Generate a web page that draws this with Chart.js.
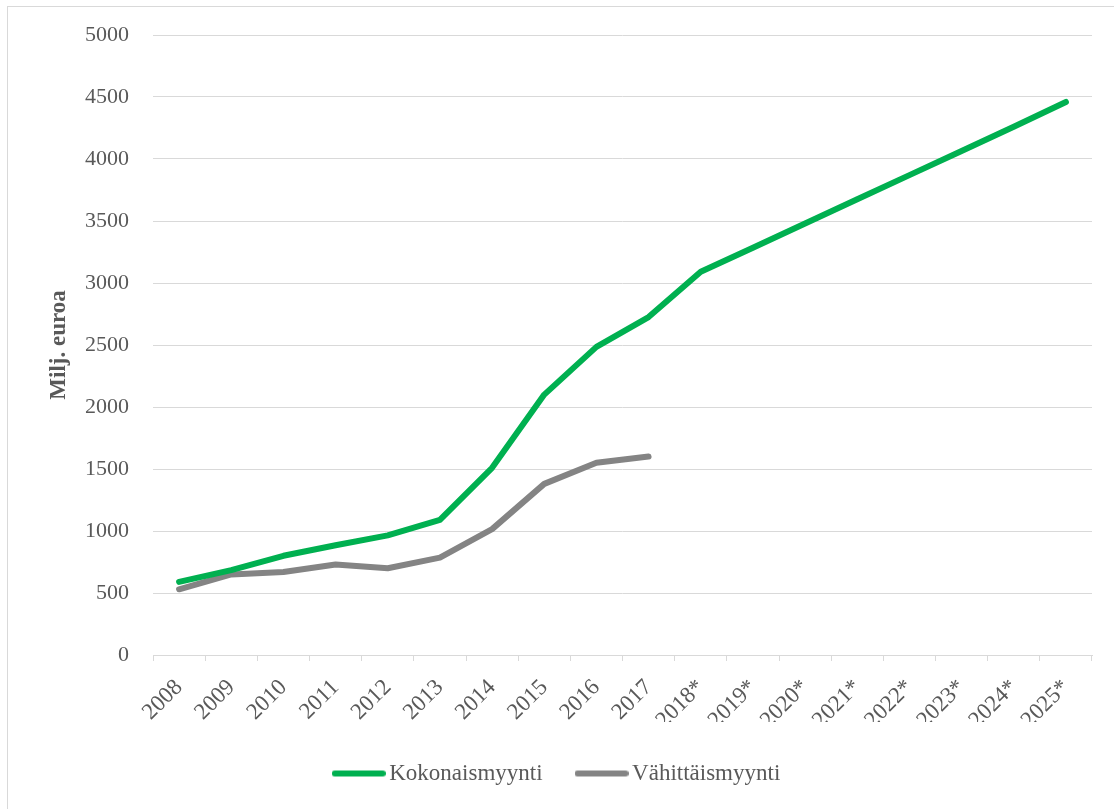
<!DOCTYPE html>
<html lang="fi">
<head>
<meta charset="utf-8">
<title>Kokonaismyynti ja vähittäismyynti</title>
<script src="https://cdn.jsdelivr.net/npm/chart.js@4/dist/chart.umd.min.js"></script>
<style>
    html, body { margin: 0; padding: 0; background: #fff; overflow: hidden; }
    #frame {
        position: absolute;
        left: 7px;
        top: 6px;
        width: 1110px;
        height: 810px;
        border: 1px solid #d9d9d9;
        box-sizing: border-box;
    }
    #salesChart { display: block; }
</style>
</head>
<body>
<div id="frame">
    <canvas id="salesChart" width="1108" height="808"></canvas>
</div>
<script>
// Years on the x axis (* = forecast)
const years = [
    "2008", "2009", "2010", "2011", "2012", "2013", "2014", "2015", "2016",
    "2017", "2018*", "2019*", "2020*", "2021*", "2022*", "2023*", "2024*", "2025*"
];

// Total sales, million euros
const kokonaismyynti = [
    590, 685, 800, 885, 965, 1090, 1510, 2100, 2485,
    2725, 3090, 3285, 3480, 3675, 3870, 4065, 4260, 4460
];

// Retail sales, million euros (no forecast)
const vahittaismyynti = [
    530, 650, 670, 730, 700, 785, 1015, 1380, 1550,
    1600, null, null, null, null, null, null, null, null
];

const yTicks = { min: 0, max: 5000, step: 500 };

const textColor = "#595959";
const gridColor = "#d9d9d9";
const fontFamily = "'Liberation Serif', 'Times New Roman', serif";

// Small line swatch for the legend, with round ends
function legendSwatch(color) {
    const c = document.createElement("canvas");
    c.width = 54;
    c.height = 8;
    const g = c.getContext("2d");
    g.strokeStyle = color;
    g.lineWidth = 6;
    g.lineCap = "round";
    g.beginPath();
    g.moveTo(3, 4);
    g.lineTo(51, 4);
    g.stroke();
    return c;
}

// Line style shared by both series
function seriesStyle(color) {
    return {
        borderColor: color,
        backgroundColor: color,
        borderWidth: 6,
        borderCapStyle: "round",
        borderJoinStyle: "round",
        pointStyle: legendSwatch(color),
        pointRadius: 0,
        pointHoverRadius: 0,
        tension: 0,
        fill: false,
        spanGaps: false,
    };
}

// Nudge the legend a bit to the right after layout
const legendShift = {
    id: "legendShift",
    afterLayout(chart) {
        if (chart.legend) {
            chart.legend.left += 10;
            chart.legend.right += 10;
        }
    },
};

const ctx = document.getElementById("salesChart").getContext("2d");
new Chart(ctx, {
    type: "line",
    data: {
        labels: years,
        datasets: [
            Object.assign({ label: "Kokonaismyynti", data: kokonaismyynti }, seriesStyle("#00b050")),
            Object.assign({ label: "Vähittäismyynti", data: vahittaismyynti }, seriesStyle("#848484")),
        ],
    },
    plugins: [legendShift],
    options: {
        responsive: false,
        animation: false,
        devicePixelRatio: 1,
        layout: {
            padding: { top: 28, right: 24, bottom: 20, left: 0 },
        },
        plugins: {
            tooltip: { enabled: false },
            legend: {
                position: "bottom",
                labels: {
                    color: textColor,
                    font: { family: fontFamily, size: 23 },
                    usePointStyle: true,
                    pointStyleWidth: 38,
                    padding: 40,
                },
            },
        },
        scales: {
            x: {
                offset: true,
                grid: {
                    offset: true,
                    drawOnChartArea: false,
                    drawTicks: true,
                    tickLength: 6,
                    color: gridColor,
                },
                border: { display: true, color: gridColor, width: 1 },
                ticks: {
                    color: textColor,
                    font: { family: fontFamily, size: 23 },
                    maxRotation: 45,
                    minRotation: 45,
                    autoSkip: false,
                    padding: 13,
                },
                afterFit: (scale) => { scale.height = 67; },
            },
            y: {
                min: yTicks.min,
                max: yTicks.max,
                grid: {
                    color: gridColor,
                    drawTicks: false,
                },
                border: { display: false },
                ticks: {
                    stepSize: yTicks.step,
                    color: textColor,
                    font: { family: fontFamily, size: 22 },
                    padding: 24,
                    // plain numbers, no thousands separator
                    callback: (value) => String(value),
                },
                title: {
                    display: true,
                    text: "Milj. euroa",
                    color: textColor,
                    font: { family: fontFamily, size: 23, weight: "bold" },
                    padding: { top: 37, bottom: 0 },
                },
                afterFit: (scale) => {
                    scale.width = 145;
                    // keep the top edge set by layout padding only
                    scale.paddingTop = 0;
                    scale.paddingBottom = 0;
                },
            },
        },
    },
});
</script>
</body>
</html>
